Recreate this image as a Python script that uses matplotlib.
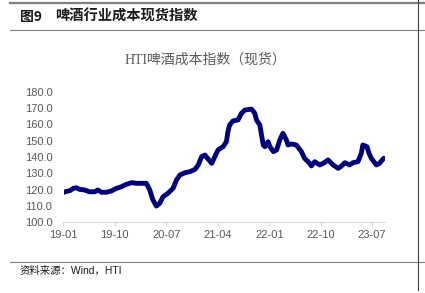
import matplotlib
matplotlib.use("Agg")
import matplotlib.pyplot as plt
import matplotlib.dates as mdates
import pandas as pd
from matplotlib.lines import Line2D

# HTI beer cost index (spot)
dates = [
    "2019-01-01", "2019-01-09", "2019-02-04", "2019-02-22", "2019-03-10", "2019-03-27",
    "2019-04-23", "2019-05-19", "2019-06-16", "2019-07-03", "2019-07-21",
    "2019-08-17", "2019-09-13", "2019-10-09", "2019-11-05", "2019-12-02",
    "2019-12-29", "2020-01-25", "2020-02-21", "2020-03-17", "2020-04-04",
    "2020-04-21", "2020-05-09", "2020-05-27", "2020-06-14", "2020-07-10",
    "2020-08-06", "2020-08-24", "2020-09-11", "2020-10-08", "2020-11-04",
    "2020-12-01", "2020-12-18", "2021-01-05", "2021-01-23", "2021-02-09",
    "2021-02-28", "2021-03-16", "2021-04-02", "2021-04-29", "2021-05-17",
    "2021-05-25", "2021-06-03", "2021-06-21", "2021-07-18", "2021-08-05",
    "2021-08-23", "2021-09-28", "2021-10-15", "2021-10-24", "2021-11-11",
    "2021-11-20", "2021-11-29", "2021-12-08", "2021-12-25", "2022-01-04",
    "2022-01-22", "2022-02-08", "2022-02-25", "2022-03-14", "2022-04-01",
    "2022-04-10", "2022-04-28", "2022-05-24", "2022-06-20", "2022-07-07",
    "2022-08-03", "2022-08-12", "2022-08-30", "2022-09-26", "2022-10-14",
    "2022-11-09", "2022-12-06", "2023-01-02", "2023-01-20", "2023-02-06",
    "2023-03-03", "2023-03-21", "2023-04-17", "2023-05-05", "2023-05-13",
    "2023-06-04", "2023-06-15", "2023-06-27", "2023-07-24", "2023-08-10",
    "2023-09-01",
]
values = [
    118.2, 118.6, 119.3, 120.7, 121.1, 120.1,
    119.7, 118.6, 118.6, 119.7, 118.3,
    118.3, 119.1, 120.7, 121.7, 123.2,
    124.2, 123.8, 123.8, 123.8, 119.7,
    113.5, 109.8, 111.5, 115.6, 117.7,
    120.7, 125.8, 128.9, 130.3, 131.0,
    132.4, 135.1, 140.2, 141.2, 138.7,
    136.1, 140.2, 144.3, 146.3, 149.4,
    155.6, 159.7, 162.2, 162.8, 166.9,
    168.9, 169.5, 166.9, 162.8, 159.7,
    153.5, 147.4, 146.3, 149.4, 146.3,
    143.3, 144.3, 150.5, 154.6, 150.5,
    147.4, 148.0, 147.4, 143.3, 139.2,
    136.1, 134.5, 137.1, 135.1, 136.1,
    138.2, 135.1, 133.0, 134.5, 136.5,
    135.1, 136.5, 137.1, 142.3, 147.4,
    146.3, 142.3, 139.2, 135.1, 136.1,
    139.2,
]
x_ticks = ["2019-01-01", "2019-10-01", "2020-07-01", "2021-04-01",
           "2022-01-01", "2022-10-01", "2023-07-01"]
y_ticks = [100, 110, 120, 130, 140, 150, 160, 170, 180]

CJK = ["Noto Sans CJK SC", "DejaVu Sans"]
GRAY = "#595959"

fig = plt.figure(figsize=(4.25, 2.93), dpi=100)
W, H = 425.0, 293.0

def fx(px):
    return px / W

def fy(py):
    return 1 - py / H

# frame lines of the report page
fig.add_artist(Line2D([fx(10), 1], [fy(2.7), fy(2.7)], color="#7f7f7f", lw=1.6))
fig.add_artist(Line2D([fx(10), 1], [fy(30), fy(30)], color="#7f7f7f", lw=0.8))
fig.add_artist(Line2D([fx(10), 1], [fy(262), fy(262)], color="#7f7f7f", lw=0.8))
fig.add_artist(Line2D([fx(418), fx(418)], [fy(0), fy(290)], color="#404040", lw=0.8))

fig.text(fx(20), fy(16.5), "图9", family=CJK, fontsize=10, fontweight="bold",
         va="center", color="#1a1a1a")
fig.text(fx(55), fy(16.5), "啤酒行业成本现货指数", family=CJK, fontsize=10.3,
         fontweight="bold", va="center", color="#1a1a1a")
fig.text(fx(20), fy(271), "资料来源：Wind，HTI", family=["Liberation Sans", "Noto Sans CJK SC"],
         fontsize=7.5, va="center", color="#1a1a1a")

# chart title, centred on the chart area rather than the plot area
fig.text(fx(205), fy(60), "HTI啤酒成本指数（现货）", family=["Liberation Serif", "Noto Sans CJK SC"],
         fontsize=10, color=GRAY, ha="center", va="center")

# chart
ax = fig.add_axes([fx(63.5), fy(222), fx(385) - fx(63.5), fy(92) - fy(222)])
ax.plot(pd.to_datetime(dates), values, color="#000080", lw=3.5,
        solid_joinstyle="round", solid_capstyle="round")

ax.set_ylim(100, 180)
ax.set_yticks(y_ticks)
ax.set_yticklabels([f"{v:.1f}" for v in y_ticks])
ax.set_xlim(pd.Timestamp("2019-01-01"), pd.Timestamp("2023-09-08"))
ax.set_xticks(pd.to_datetime(x_ticks))
ax.xaxis.set_major_formatter(mdates.DateFormatter("%y-%m"))

for s in ["top", "right", "left"]:
    ax.spines[s].set_visible(False)
ax.spines["bottom"].set_color("#d9d9d9")
ax.spines["bottom"].set_linewidth(0.8)

ax.tick_params(axis="y", length=0, pad=8, labelsize=8, labelcolor=GRAY)
ax.tick_params(axis="x", length=3, color="#d9d9d9", pad=3, labelsize=8, labelcolor=GRAY)
for lab in ax.get_xticklabels() + ax.get_yticklabels():
    lab.set_family("Liberation Sans")

fig.savefig("out.png", dpi=100)
